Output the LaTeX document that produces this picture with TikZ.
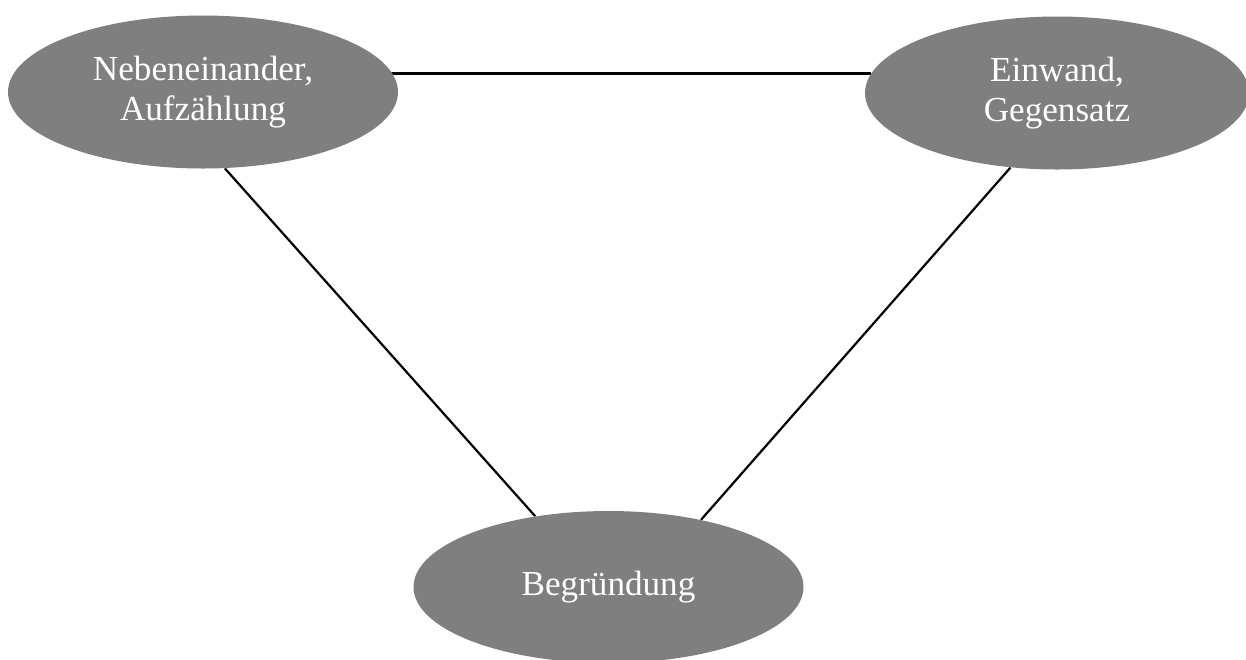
\documentclass[tikz,border=0pt]{standalone}
\usepackage{fontspec}
\setmainfont{Liberation Serif}
\usetikzlibrary{
  backgrounds,
  shapes.geometric
}
\definecolor{ink}{HTML}{000000}
\definecolor{bubble}{HTML}{7F7F7F}
\tikzset{
  topic/.style={
    ellipse,
    fill=bubble,
    draw=none,
    inner sep=0pt,
    minimum width=7.8cm,
    minimum height=3.06cm,
    text=white,
    align=center,
    font=\fontsize{20}{23}\selectfont
  },
  link/.style={
    draw=ink,
    line width=1.25pt
  }
}
\begin{document}
\begin{tikzpicture}
    \useasboundingbox (0,0) rectangle (24.92,-13.18);
    \node[topic] (nebeneinander) at (4.06,-1.84) {Nebeneinander,\\Aufzählung};
    \node[topic, minimum width=7.68cm] (einwand) at (21.14,-1.86) {Einwand,\\Gegensatz};
    \node[topic, minimum height=3.04cm] (begruendung) at (12.17,-11.74) {Begründung};
    \begin{scope}[on background layer]
      \draw[link] (einwand.174 -| nebeneinander.center) -- (einwand.174);
      \draw[link] (nebeneinander.-74.5) -- (begruendung.136.4);
      \draw[link] (einwand.-122) -- (begruendung.36.8);
    \end{scope}
  \end{tikzpicture}
\end{document}
